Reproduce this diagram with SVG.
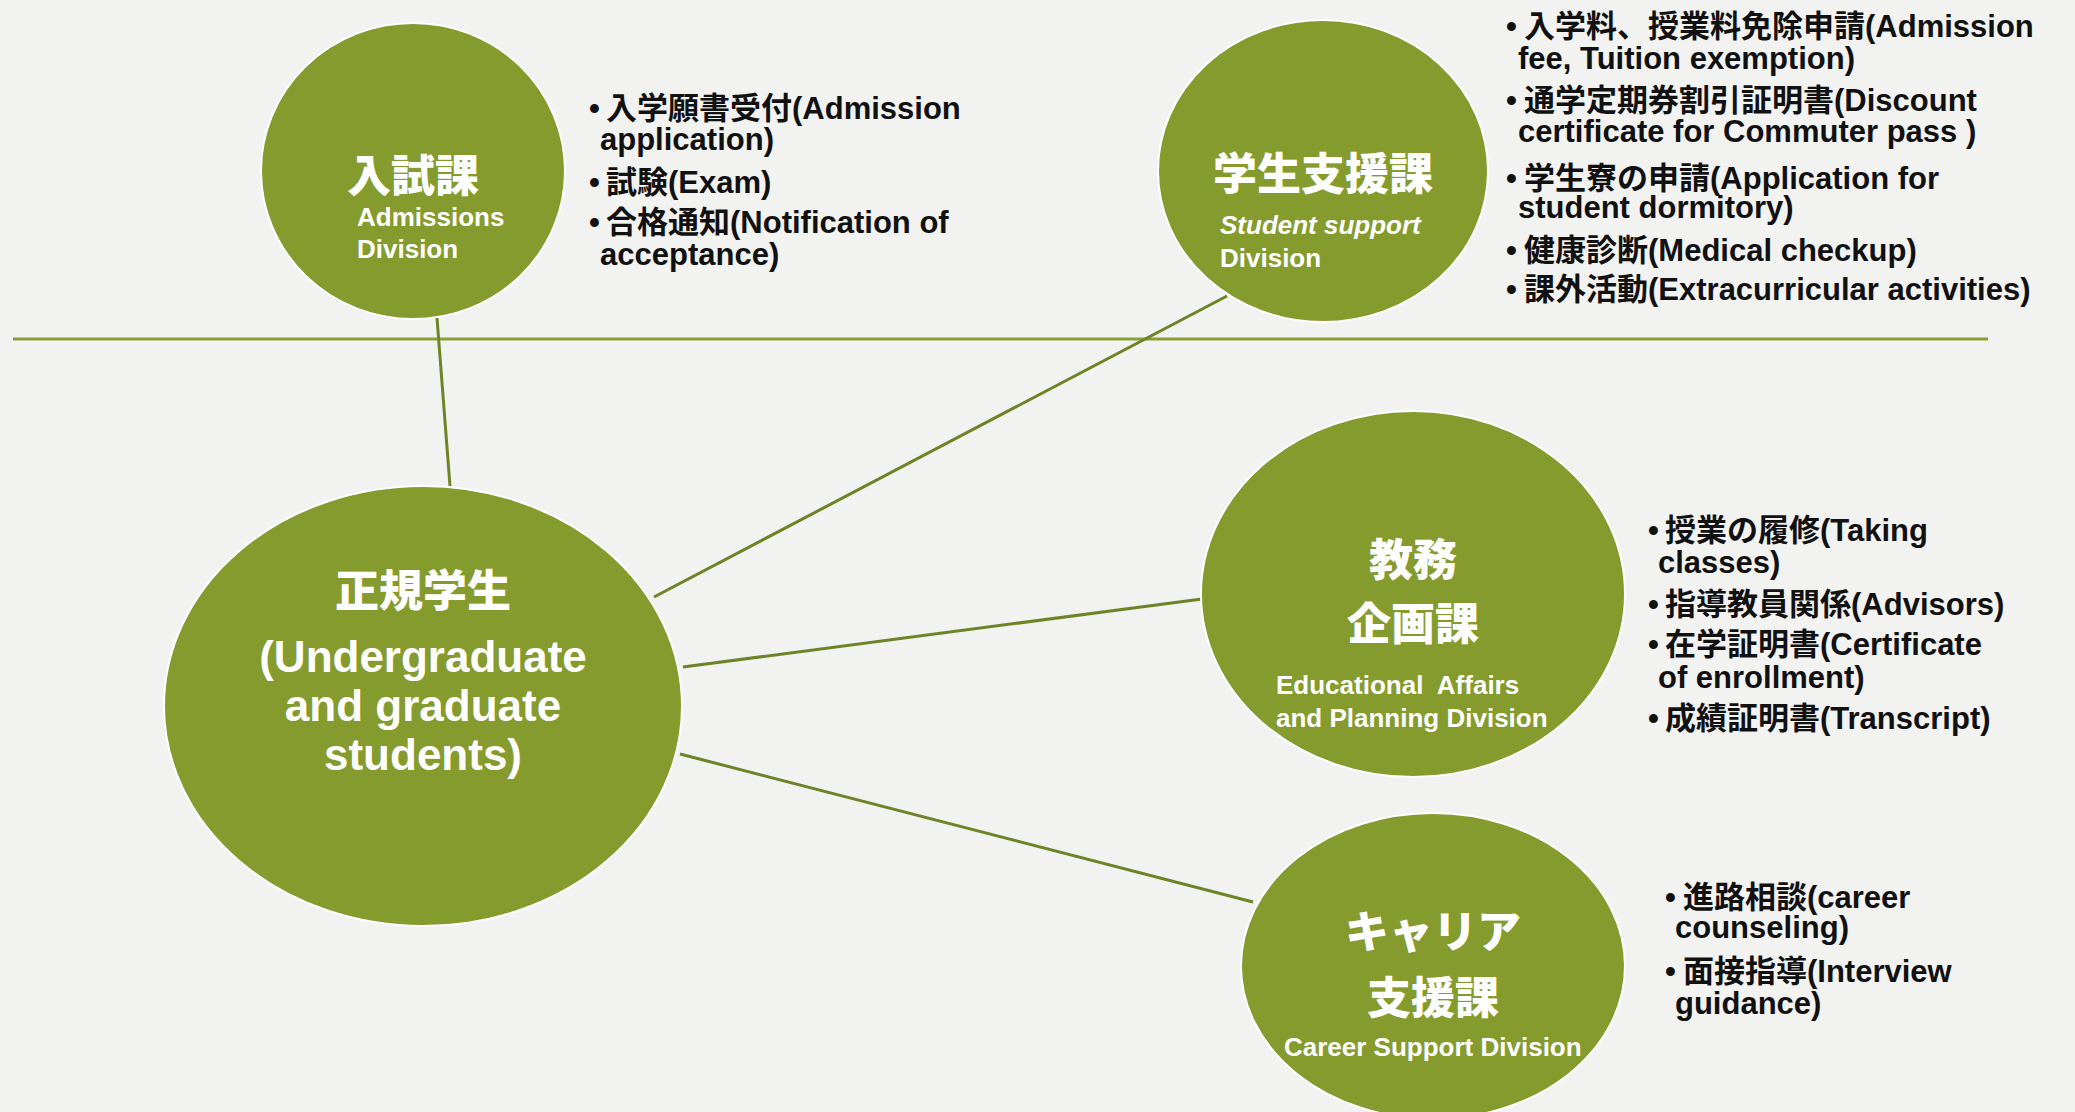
<svg xmlns="http://www.w3.org/2000/svg" width="2075" height="1112" viewBox="0 0 2075 1112">
<style>
.bg{fill:#f2f2f1}
.node{fill:#859b2d;stroke:#ffffff;stroke-width:2}
.conn{stroke:#6e8226;stroke-width:3;fill:none}
.sep{stroke:#8a9e35;stroke-width:3;fill:none}
.t{font-family:"Liberation Sans","Noto Sans CJK JP",sans-serif;font-weight:700;fill:#ffffff}
.jt{font-family:"Noto Sans CJK JP",sans-serif;font-weight:900;fill:#ffffff;font-size:44px;text-anchor:middle}
.big{font-size:44px;text-anchor:middle}
.sub{font-size:26px}
.li{font-family:"Liberation Sans","Noto Sans CJK JP",sans-serif;font-weight:700;fill:#111111;font-size:31px}
</style>
<rect class="bg" x="0" y="0" width="2075" height="1112"/>
<line class="sep" x1="13" y1="339" x2="1988" y2="339"/>
<g id="connectors">
<line class="conn" x1="437" y1="318" x2="450" y2="486"/>
<line class="conn" x1="654" y1="597" x2="1227" y2="296"/>
<line class="conn" x1="683" y1="667" x2="1202" y2="599"/>
<line class="conn" x1="680" y1="754" x2="1253" y2="902"/>
</g>
<g id="nyushika">
<ellipse class="node" cx="413" cy="171" rx="152" ry="148"/>
<text class="jt" x="413" y="192">入試課</text>
<text class="t sub" x="357" y="226">Admissions</text>
<text class="t sub" x="357" y="258">Division</text>
<text class="li" x="589" y="119">•</text>
<text class="li" x="606" y="119">入学願書受付(Admission</text>
<text class="li" x="600" y="150">application)</text>
<text class="li" x="589" y="193">•</text>
<text class="li" x="606" y="193">試験(Exam)</text>
<text class="li" x="589" y="233">•</text>
<text class="li" x="606" y="233">合格通知(Notification of</text>
<text class="li" x="600" y="265">acceptance)</text>
</g>
<g id="gakusei-shien">
<ellipse class="node" cx="1323" cy="171" rx="165" ry="151"/>
<text class="jt" x="1323" y="190">学生支援課</text>
<text class="t sub" x="1220" y="234" font-style="italic">Student support</text>
<text class="t sub" x="1220" y="267">Division</text>
<text class="li" x="1506" y="37">•</text>
<text class="li" x="1524" y="37">入学料、授業料免除申請(Admission</text>
<text class="li" x="1518" y="69">fee, Tuition exemption)</text>
<text class="li" x="1506" y="111">•</text>
<text class="li" x="1524" y="111">通学定期券割引証明書(Discount</text>
<text class="li" x="1518" y="142">certificate for Commuter pass )</text>
<text class="li" x="1506" y="189">•</text>
<text class="li" x="1524" y="189">学生寮の申請(Application for</text>
<text class="li" x="1518" y="218">student dormitory)</text>
<text class="li" x="1506" y="261">•</text>
<text class="li" x="1524" y="261">健康診断(Medical checkup)</text>
<text class="li" x="1506" y="300">•</text>
<text class="li" x="1524" y="300">課外活動(Extracurricular activities)</text>
</g>
<g id="seiki-gakusei">
<ellipse class="node" cx="423" cy="706" rx="259" ry="220"/>
<text class="jt" x="423" y="607">正規学生</text>
<text class="t big" x="423" y="672">(Undergraduate</text>
<text class="t big" x="423" y="721">and graduate</text>
<text class="t big" x="423" y="770">students)</text>
</g>
<g id="kyomu-kikaku">
<ellipse class="node" cx="1413" cy="594" rx="212" ry="183"/>
<text class="jt" x="1413" y="576">教務</text>
<text class="jt" x="1413" y="640">企画課</text>
<text class="t sub" x="1276" y="694" xml:space="preserve">Educational  Affairs</text>
<text class="t sub" x="1276" y="727">and Planning Division</text>
<text class="li" x="1648" y="541">•</text>
<text class="li" x="1665" y="541">授業の履修(Taking</text>
<text class="li" x="1658" y="573">classes)</text>
<text class="li" x="1648" y="615">•</text>
<text class="li" x="1665" y="615">指導教員関係(Advisors)</text>
<text class="li" x="1648" y="655">•</text>
<text class="li" x="1665" y="655">在学証明書(Certificate</text>
<text class="li" x="1658" y="688">of enrollment)</text>
<text class="li" x="1648" y="729">•</text>
<text class="li" x="1665" y="729">成績証明書(Transcript)</text>
</g>
<g id="career-shien">
<ellipse class="node" cx="1433" cy="966" rx="192" ry="153"/>
<text class="jt" x="1433" y="948">キャリア</text>
<text class="jt" x="1433" y="1014">支援課</text>
<text class="t sub" x="1284" y="1056">Career Support Division</text>
<text class="li" x="1665" y="908">•</text>
<text class="li" x="1683" y="908">進路相談(career</text>
<text class="li" x="1675" y="938">counseling)</text>
<text class="li" x="1665" y="982">•</text>
<text class="li" x="1683" y="982">面接指導(Interview</text>
<text class="li" x="1675" y="1014">guidance)</text>
</g>
</svg>
